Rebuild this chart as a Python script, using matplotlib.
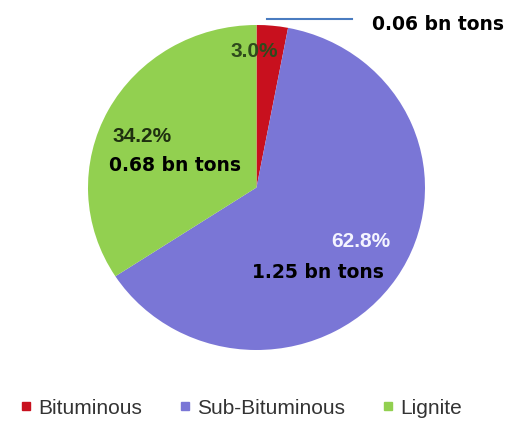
import matplotlib.pyplot as plt
from matplotlib.lines import Line2D

categories = ['Bituminous', 'Sub-Bituminous', 'Lignite']
shares = [3.0, 62.8, 34.2]
tons = [0.06, 1.25, 0.68]
colors = ['#c8101e', '#7a76d6', '#92d050']

fig = plt.figure(figsize=(5.18, 4.25), dpi=100)
ax = fig.add_axes([88 / 518, 75 / 425, 337 / 518, 325 / 425])

ax.pie(shares, colors=colors, startangle=90, counterclock=False,
       wedgeprops=dict(linewidth=0))
ax.set_xlim(-1, 1)
ax.set_ylim(-1, 1)
ax.set_aspect('auto')

# percent labels
pct_style = dict(ha='center', va='center', fontsize=15, fontweight='bold',
                 family='Liberation Sans')
ax.text(-0.015, 0.834, '%.1f%%' % shares[0], color='#2e4a1c', **pct_style)
ax.text(0.620, -0.335, '%.1f%%' % shares[1], color='#f4f4ff', **pct_style)
ax.text(-0.680, 0.311, '%.1f%%' % shares[2], color='#1f3010', **pct_style)

# tonnage labels
ton_style = dict(ha='center', va='center', fontsize=13.5, fontweight='bold',
                 color='black', family='DejaVu Sans')
ax.text(1.080, 1.006, '%.2f bn tons' % tons[0], **ton_style)
ax.text(0.365, -0.520, '%.2f bn tons' % tons[1], **ton_style)
ax.text(-0.481, 0.138, '%.2f bn tons' % tons[2], **ton_style)
ax.plot([0.062, 0.567], [1.035, 1.035], color='#4a7cc0', lw=1.5, clip_on=False)

handles = [Line2D([], [], marker='s', ls='', color=c, markersize=6) for c in colors]
fig.legend(handles, categories, loc='center', bbox_to_anchor=(0.463, 0.04),
           ncol=3, frameon=False, handletextpad=0.2, handlelength=0.8,
           columnspacing=1.65,
           prop=dict(family='Liberation Sans', size=15), labelcolor='#333333')

fig.savefig('out.png', dpi=100)
